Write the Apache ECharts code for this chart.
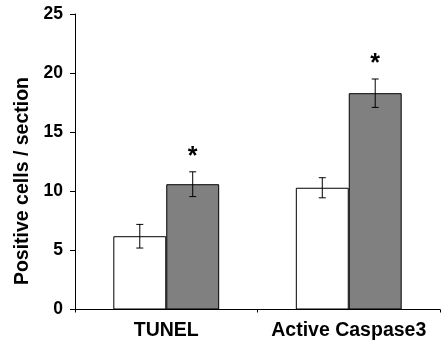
<!DOCTYPE html>
<html><head><meta charset="utf-8">
<script src="https://cdn.jsdelivr.net/npm/echarts@6/dist/echarts.min.js"></script>
<style>html,body{margin:0;padding:0;background:#fff}#c{width:445px;height:349px}</style>
</head><body><div id="c"></div>
<script>
var categories = ['TUNEL', 'Active Caspase3'];
var controlValues = [6.2, 10.3];
var controlErrors = [1.0, 0.85];
var treatedValues = [10.6, 18.3];
var treatedErrors = [1.05, 1.2];
var treatedStars = ['*', '*'];
var yTicks = [0, 5, 10, 15, 20, 25];

var chart = echarts.init(document.getElementById('c'));
var FONT = '"Liberation Sans", Arial, sans-serif';
var BW = 0.29;

function errSeries(values, errs, side, stars) {
  var data = values.map(function (v, i) { return [i, v, errs[i], stars ? stars[i] : '']; });
  return {
    type: 'custom', z: 10,
    data: data,
    renderItem: function (params, api) {
      var i = api.value(0), v = api.value(1), e = api.value(2);
      var band = api.size([1, 0])[0];
      var c = api.coord([i, v]);
      var x = c[0] + side * band * BW / 2;
      var hi = api.coord([i, v + e])[1], lo = api.coord([i, v - e])[1];
      var cap = 3.5;
      var st = { stroke: '#000', lineWidth: 1 };
      var children = [
        { type: 'line', shape: { x1: x, y1: hi, x2: x, y2: lo }, style: st },
        { type: 'line', shape: { x1: x - cap, y1: hi, x2: x + cap, y2: hi }, style: st },
        { type: 'line', shape: { x1: x - cap, y1: lo, x2: x + cap, y2: lo }, style: st }
      ];
      var s = data[params.dataIndex][3];
      if (s) {
        children.push({ type: 'text', style: { text: s, x: x, y: hi - 2, align: 'center', verticalAlign: 'bottom',
          font: 'bold 25px ' + FONT, fill: '#000' } });
      }
      return { type: 'group', children: children };
    }
  };
}

chart.setOption({
  animation: false,
  backgroundColor: '#fff',
  grid: { left: 75, right: 5, top: 14, bottom: 39.5, containLabel: false },
  xAxis: {
    type: 'category', data: categories,
    axisLine: { lineStyle: { color: '#000', width: 1 } },
    axisTick: { show: true, length: 3, lineStyle: { color: '#000' } },
    axisLabel: { interval: 0, hideOverlap: false, color: '#000', fontFamily: FONT, fontWeight: 'bold', fontSize: 19.5, margin: 11 }
  },
  yAxis: {
    type: 'value', min: yTicks[0], max: yTicks[yTicks.length - 1], interval: 5,
    axisLine: { show: true, lineStyle: { color: '#000', width: 1 } },
    axisTick: { show: true, length: 5, lineStyle: { color: '#000' } },
    splitLine: { show: false },
    axisLabel: { color: '#000', fontFamily: FONT, fontWeight: 'bold', fontSize: 17.5, margin: 12 }
  },
  graphic: [{
    type: 'text', left: 13, top: 77, rotation: Math.PI / 2,
    style: { text: 'Positive cells / section', font: 'bold 19.5px ' + FONT, fill: '#000' }
  }],
  series: [
    { type: 'bar', data: controlValues, barWidth: (BW * 100) + '%', barGap: '0%',
      itemStyle: { color: '#fff', borderColor: '#000', borderWidth: 1 } },
    { type: 'bar', data: treatedValues, barWidth: (BW * 100) + '%', barGap: '0%',
      itemStyle: { color: '#808080', borderColor: '#000', borderWidth: 1 } },
    errSeries(controlValues, controlErrors, -1, null),
    errSeries(treatedValues, treatedErrors, 1, treatedStars)
  ]
});
</script></body></html>
